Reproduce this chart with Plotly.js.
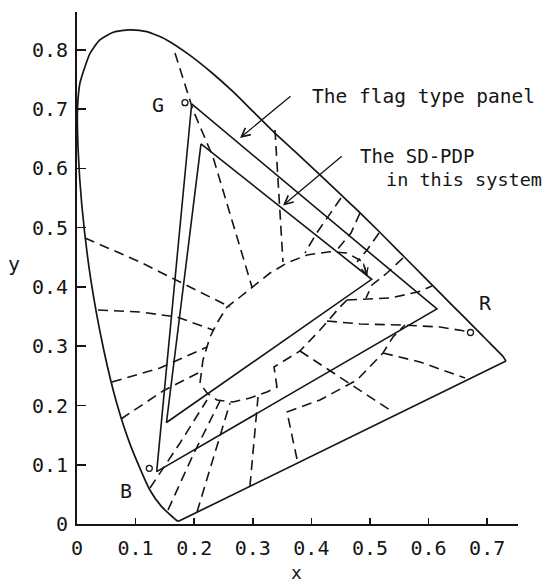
<!DOCTYPE html>
<html>
<head>
<meta charset="utf-8">
<script src="https://cdn.plot.ly/plotly-3.0.1.min.js"></script>
<style>html,body{margin:0;padding:0;background:#fff;}#chart{width:552px;height:584px;}</style>
</head>
<body>
<div id="chart"></div>
<script>
// Spectral locus (x,y chromaticity), from the 380 nm end round to the red end
var locusX = [0.1741,0.1714,0.1689,0.1644,0.1566,0.1440,0.1241,0.0913,0.0687,0.0454,0.0235,0.0082,0.0020,0.0008,0.0050,0.0137,0.0220,0.0390,0.0620,0.0900,0.1190,0.1530,0.1900,0.2296,0.2658,0.3016,0.3373,0.3731,0.4087,0.4441,0.4788,0.5125,0.5448,0.5752,0.6029,0.6270,0.6482,0.6658,0.6801,0.6915,0.7006,0.7079,0.7140,0.7190,0.7260,0.7321];
var locusY = [0.0050,0.0051,0.0069,0.0109,0.0177,0.0297,0.0578,0.1327,0.2007,0.2950,0.4127,0.5384,0.6300,0.6990,0.7440,0.7720,0.7940,0.8170,0.8300,0.8340,0.8310,0.8170,0.7930,0.7620,0.7300,0.6950,0.6600,0.6275,0.5946,0.5617,0.5292,0.4966,0.4644,0.4342,0.4065,0.3825,0.3614,0.3440,0.3297,0.3183,0.3093,0.3020,0.2959,0.2909,0.2840,0.2751];
// Purple line joining the two ends
var purpleX = [0.1741,0.7321];
var purpleY = [0.0050,0.2751];

// Flag type panel gamut
var flagX = [0.1957,0.6143,0.1360,0.1957];
var flagY = [0.7089,0.3629,0.0883,0.7089];
// SD-PDP gamut
var sdX = [0.2116,0.5029,0.1527,0.2116];
var sdY = [0.6414,0.4130,0.1713,0.6414];

// Reference primaries (small circles) and their labels
var primLabels = ['G','R','B'];
var primX = [0.1843,0.6715,0.1234];
var primY = [0.7111,0.3232,0.0940];

// Dashed loci
var dashLines = {
  L1: [[0.1672,0.1980,0.2321,0.2645,0.2986],[0.7949,0.6987,0.6194,0.5131,0.4000]],
  L2: [[0.3379,0.3447,0.3515],[0.6650,0.5468,0.4422]],
  L3: [[0.4505,0.4090,0.3891],[0.5502,0.4911,0.4574]],
  L4: [[0.4829,0.4676,0.4420],[0.5249,0.4911,0.4608]],
  L5: [[0.5154,0.4949,0.4778],[0.4911,0.4624,0.4422]],
  L6: [[0.5563,0.5290,0.5034,0.4932],[0.4489,0.4236,0.4034,0.3814]],
  E:  [[0.4949,0.4881,0.4608,0.4317,0.3925,0.3584,0.3294,0.3003,0.2782,0.2560,0.2389,0.2270,0.2150,0.2099,0.2218,0.2389,0.2662,0.2952,0.3242,0.3413,0.3362,0.3805,0.4147,0.4488,0.4608],
       [0.4203,0.4422,0.4574,0.4596,0.4540,0.4405,0.4236,0.4000,0.3831,0.3662,0.3392,0.3156,0.2768,0.2380,0.2211,0.2093,0.2059,0.2127,0.2228,0.2312,0.2650,0.2920,0.3274,0.3662,0.3781]],
  H1: [[0.4608,0.5341,0.5819,0.6058],[0.3781,0.3814,0.3916,0.4017]],
  H2: [[0.4266,0.4829,0.5512,0.6195,0.6706],[0.3426,0.3376,0.3359,0.3325,0.3241]],
  D1: [[0.3805,0.5392],[0.2920,0.1890]],
  D2: [[0.5222,0.5853,0.6621],[0.2886,0.2734,0.2464]],
  B5: [[0.3754,0.3584,0.4147,0.4778,0.5222,0.5392,0.5597],[0.1097,0.1890,0.2093,0.2430,0.2886,0.3156,0.3359]],
  W1: [[0.0137,0.1075,0.1928,0.2611],[0.4827,0.4422,0.4000,0.3662]],
  W2: [[0.0358,0.1075,0.1706,0.2321],[0.3612,0.3578,0.3494,0.3274]],
  W3: [[0.0597,0.1416,0.2218],[0.2397,0.2633,0.2987]],
  W4: [[0.0751,0.1468,0.2099],[0.1772,0.2245,0.2565]],
  B1: [[0.1246,0.1758,0.2218],[0.0608,0.1367,0.2093]],
  B2: [[0.1553,0.1980,0.2440],[0.0236,0.1165,0.2076]],
  B3: [[0.2048,0.2338,0.2611],[0.0203,0.1165,0.2042]],
  B4: [[0.2952,0.3020,0.3089],[0.0641,0.1418,0.2143]]
};

var xTickVals = [0,0.1,0.2,0.3,0.4,0.5,0.6,0.7];
var xTickText = ['0','0.1','0.2','0.3','0.4','0.5','0.6','0.7'];
var yTickVals = [0,0.1,0.2,0.3,0.4,0.5,0.6,0.7,0.8];
var yTickText = ['0','0.1','0.2','0.3','0.4','0.5','0.6','0.7','0.8'];

var INK = '#151515';
var FONT = 'DejaVu Sans Mono, monospace';

var traces = [];
traces.push({x: locusX, y: locusY, mode: 'lines', line: {color: INK, width: 1.7, shape: 'spline', smoothing: 0.6}, hoverinfo: 'skip'});
traces.push({x: purpleX, y: purpleY, mode: 'lines', line: {color: INK, width: 1.7}, hoverinfo: 'skip'});
traces.push({x: flagX, y: flagY, mode: 'lines', line: {color: INK, width: 1.6}, hoverinfo: 'skip'});
traces.push({x: sdX, y: sdY, mode: 'lines', line: {color: INK, width: 1.6}, hoverinfo: 'skip'});
Object.keys(dashLines).forEach(function(k){
  traces.push({x: dashLines[k][0], y: dashLines[k][1], mode: 'lines',
    line: {color: INK, width: 1.6, dash: '10px,6px'}, hoverinfo: 'skip'});
});
traces.push({x: primX, y: primY, mode: 'markers',
  marker: {symbol: 'circle-open', size: 6, color: INK, line: {width: 1.3, color: INK}}, hoverinfo: 'skip'});

var annotations = [
  {x: 0.1382, y: 0.7072, text: primLabels[0], showarrow: false, xanchor: 'center', yanchor: 'middle'},
  {x: 0.6974, y: 0.3722, text: primLabels[1], showarrow: false, xanchor: 'center', yanchor: 'middle'},
  {x: 0.0831, y: 0.0565, text: primLabels[2], showarrow: false, xanchor: 'center', yanchor: 'middle'},
  {x: 0.3976, y: 0.7207, text: 'The flag type panel', showarrow: false, xanchor: 'left', yanchor: 'middle', font: {size: 19.5}},
  {x: 0.4800, y: 0.6203, text: 'The SD-PDP', showarrow: false, xanchor: 'left', yanchor: 'middle', font: {size: 19}},
  {x: 0.5240, y: 0.5806, text: 'in this system', showarrow: false, xanchor: 'left', yanchor: 'middle', font: {size: 18.5}},
  {x: 0.2782, y: 0.6515, ax: 0.3669, ay: 0.7241, axref: 'x', ayref: 'y', text: '', showarrow: true,
   arrowhead: 5, arrowsize: 1.3, arrowwidth: 1.3, arrowcolor: INK},
  {x: 0.3515, y: 0.5376, ax: 0.4544, ay: 0.6228, axref: 'x', ayref: 'y', text: '', showarrow: true,
   arrowhead: 5, arrowsize: 1.3, arrowwidth: 1.3, arrowcolor: INK},
  {x: 0.4949, y: 0.4186, ax: 0.4881, ay: 0.4422, axref: 'x', ayref: 'y', text: '', showarrow: true,
   arrowhead: 5, arrowsize: 1.1, arrowwidth: 1.2, arrowcolor: INK},
  {xref: 'paper', yref: 'paper', x: -0.1429, y: 0.5078, text: 'y', showarrow: false, xanchor: 'center', yanchor: 'middle'},
  {xref: 'paper', yref: 'paper', x: 0.4966, y: -0.0957, text: 'x', showarrow: false, xanchor: 'center', yanchor: 'middle', font: {size: 18}}
];

var layout = {
  width: 552, height: 584,
  margin: {l: 77, r: 34, t: 12, b: 60, pad: 0},
  paper_bgcolor: '#fff', plot_bgcolor: '#fff',
  showlegend: false,
  font: {family: FONT, size: 20, color: INK},
  xaxis: {range: [0, 0.7526], showgrid: false, zeroline: false, showline: true, linewidth: 2, linecolor: INK,
          ticks: 'inside', ticklen: 6, tickwidth: 1.5, tickcolor: INK, ticklabelstandoff: 5,
          tickvals: xTickVals, ticktext: xTickText, tickfont: {family: FONT, size: 20, color: INK}},
  yaxis: {range: [0, 0.8641], showgrid: false, zeroline: false, showline: true, linewidth: 2, linecolor: INK,
          ticks: 'inside', ticklen: 9, tickwidth: 1.5, tickcolor: INK, ticklabelstandoff: 3,
          tickvals: yTickVals, ticktext: yTickText, tickfont: {family: FONT, size: 20, color: INK}},
  annotations: annotations
};

Plotly.newPlot('chart', traces, layout, {staticPlot: true, displayModeBar: false});
</script>
</body>
</html>
